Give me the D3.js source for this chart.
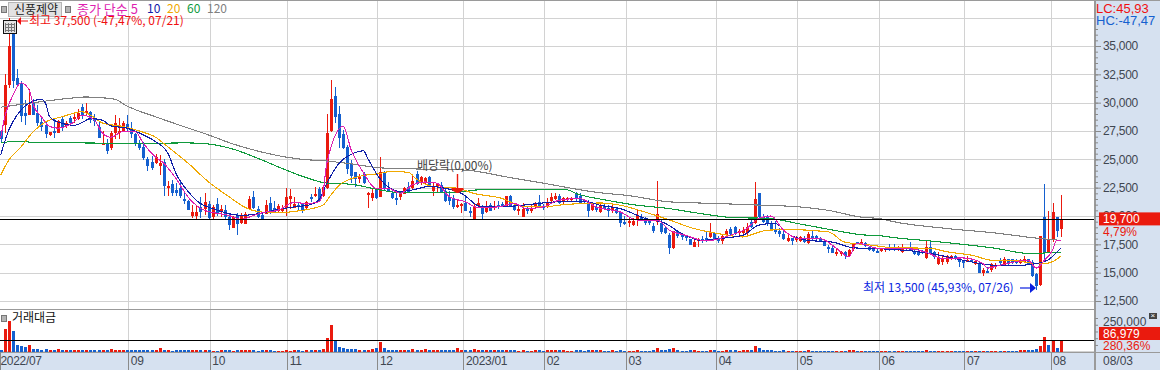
<!DOCTYPE html>
<html>
<head>
<meta charset="utf-8">
<script src="https://d3js.org/d3.v7.min.js"></script>
<style>
	body { margin: 0; background: #fff; overflow: hidden; }
	svg { display: block; }
	text { font-family: "Liberation Sans", "Noto Sans CJK KR", sans-serif; }
	.kr { font-family: "Noto Sans CJK KR", sans-serif; }
	.tick text { font-size: 12px; fill: #3f4650; letter-spacing: -0.3px; }
</style>
</head>
<body>
<svg id="vis" width="1160" height="370"></svg>
<script>
// daily prices, one entry per trading day
var opens = [
	27500,28050,31550,36150,32150,31700,29100,28900,30000,29100,
	28300,28000,27100,27500,27300,28550,27950,28650,28600,28550,
	29600,29100,29200,28550,27850,26350,26350,26000,27300,27300,
	27500,28100,27750,27200,26450,26100,25000,24800,24650,24400,
	24750,22450,22800,22300,22450,21500,21300,20000,20000,20800,
	20600,21050,19900,21050,20350,20500,19900,18900,20100,19350,
	19350,20600,21650,20600,20100,20250,21150,20700,20400,20400,
	20700,21550,20700,20950,21050,20700,21650,21750,22350,21800,
	22450,27500,30600,29000,27250,26100,24600,23900,23250,23700,
	21850,21600,22300,21700,23900,22500,22000,21600,21600,21950,
	22600,22400,23750,22900,22900,23450,22250,22650,22750,22200,
	21650,21500,20850,20900,21150,20450,19700,20850,20800,20350,
	21000,20700,21000,21100,20850,21800,20950,20450,19950,20650,
	20450,20800,21250,20900,20850,21300,21550,21800,21200,21400,
	21450,22000,21800,21400,21200,20500,20800,20350,20850,20750,
	20450,20600,20350,19450,19350,19250,19600,19900,19700,19650,
	19150,19450,19350,18900,18300,17150,18650,18300,18200,17950,
	17300,17750,17950,18100,18150,18500,18050,17800,18300,18850,
	19000,18450,18450,18450,19450,19350,22000,19900,19900,19350,
	18750,18650,18450,17800,18050,17950,17800,18000,17700,18200,
	18200,18100,17750,17300,17200,16700,16650,16800,16450,17150,
	17700,17600,17600,17300,17200,16950,16900,16950,17250,17300,
	17050,16800,17250,17200,16950,16900,16900,16350,17300,16800,
	15750,15950,15950,16250,16450,16200,16000,15950,16150,15800,
	15800,14900,15150,15200,15550,16000,15650,16200,16200,16000,
	15850,15950,16250,15950,14850,13900,19900,16800,17850,19900,18800
];
var highs = [
	27600,32500,37500,37000,33000,31900,30200,31200,30350,29800,
	28650,28300,27450,28550,28500,28850,28400,28850,29100,29400,
	29900,29950,29300,29000,28400,27500,26800,27500,28900,28650,
	28400,28900,28300,27300,26700,26500,25250,25300,25500,25400,
	25000,23100,23150,22900,23050,22000,21400,20950,20950,21650,
	22000,21300,20950,21600,20950,20950,20250,20000,20250,20300,
	20350,21800,22200,20900,20250,21400,21650,21350,21050,20950,
	22500,22350,21650,21250,21150,21300,21950,22550,22600,22600,
	29000,32000,31400,29700,27600,26300,24900,23900,23750,23900,
	22100,22450,22500,25200,24000,23000,22200,22200,21950,22550,
	23000,23500,23950,23500,23400,23550,23000,22950,23000,22500,
	22200,21850,21400,21150,21700,20800,21100,21550,21000,21350,
	21150,21300,21300,21200,21800,21850,21150,20850,21150,20800,
	21100,21250,21850,21050,21600,22000,22000,21900,21700,21700,
	21700,22100,22050,21500,21400,21200,20950,21150,21100,20950,
	20950,20800,20450,20000,19850,19850,20600,20150,19950,19700,
	19350,23100,19650,19050,18500,18700,18750,18500,18300,18000,
	17850,18050,18250,18600,19350,18550,18250,18300,18850,19050,
	19100,18850,19050,19350,19650,23000,22050,20150,20050,19550,
	19550,18900,18750,18300,18100,18200,18200,18200,18600,18700,
	18350,18150,17800,17400,17350,17150,16950,16900,17050,17600,
	17750,17950,17750,17350,17250,17050,17200,17250,17500,17500,
	17350,17500,17300,17700,17000,17050,17000,17900,17750,16900,
	16800,16550,16550,16550,16550,16350,16100,16450,16300,16150,
	15900,15400,15500,15850,15850,16300,16350,16250,16250,16200,
	16250,16450,16250,16100,14950,18250,22800,20400,21150,19950,21850
];
var lows = [
	26500,27350,31300,31300,31550,28300,28000,28900,28900,27900,
	27500,26850,27100,26900,27300,27500,27800,27900,28200,28500,
	28600,28900,28200,27900,26900,26250,25500,25850,26800,26800,
	27400,27500,26850,26200,25800,24950,24000,24100,24600,23650,
	21800,21800,21800,21800,21600,21100,20500,19800,19750,19800,
	20100,19650,19650,20000,19900,19750,18800,18900,18300,19300,
	19300,20500,20600,19800,19650,20150,20200,20250,20300,20300,
	20000,20650,20700,20500,20250,20600,21250,21650,21200,21700,
	22400,27400,28200,26000,25900,23700,22950,22600,22950,22800,
	20700,21350,21500,21650,22300,22100,21500,21000,21450,21900,
	22050,22350,22700,22750,22800,22550,21750,22000,22050,21250,
	21000,20650,20750,20250,20400,19900,19700,20750,19700,20300,
	20450,20500,20600,20800,20800,20850,20400,20050,19950,20200,
	20300,20700,20750,20550,20750,21100,21450,21100,21050,21250,
	21200,21250,21050,21100,19950,20450,20350,20250,20500,19950,
	20250,20150,19050,19250,19050,19150,19150,19600,19250,19250,
	18500,19250,18450,18400,16650,17100,18050,17850,17800,17400,
	17250,17250,17600,17750,18050,17850,17600,17500,18250,18350,
	18350,18250,18250,18350,18900,19300,19850,19350,19150,18650,
	18450,18150,17900,17700,17400,17700,17700,17650,17500,17900,
	17800,17700,17350,16750,16700,16500,16500,16250,16400,16950,
	17500,17400,17300,16950,16850,16700,16800,16850,16950,16900,
	16900,16700,17000,17000,16550,16500,16650,16250,16700,16250,
	15700,15700,15800,16100,16100,15500,15400,15900,15900,15700,
	15000,14700,14950,15100,15300,15600,15600,15600,15750,15800,
	15750,15850,15800,14650,13500,13850,15950,16750,17700,18150,18150
];
var closes = [
	26800,31550,35000,31900,31550,28750,28800,29800,28900,28200,
	27850,27200,27400,27300,28400,27850,28200,28200,28750,29100,
	28900,29300,28500,28350,26900,26450,25700,27300,28200,27500,
	28200,27850,27200,26400,26000,25100,24400,24300,25200,24650,
	22650,22650,22000,22000,21750,21300,20500,20350,20350,20350,
	21200,19800,20800,20250,20600,19900,19200,19900,19300,20100,
	20200,21500,20700,19900,19700,21000,20350,20350,20850,20700,
	21650,21800,21050,20800,20500,21200,21450,21950,21300,22600,
	27300,30300,28750,26900,26000,24150,23500,23250,23500,22900,
	22050,22050,21600,23900,22500,22200,21600,21500,21900,22450,
	22150,23050,22900,23450,23350,22650,22650,22800,22150,21300,
	21300,20800,20950,21100,20450,20250,20800,21150,20200,20800,
	20500,20900,20800,20900,21750,20950,20500,20650,20650,20500,
	20650,21150,20800,20800,21200,21650,21800,21200,21550,21550,
	21550,21500,21150,21200,20450,21150,20500,20950,20600,20450,
	20700,20250,19350,19350,19550,19600,20050,19700,19350,19350,
	18750,20150,18550,18450,17150,18650,18200,18150,18050,17400,
	17750,17950,17750,17850,18500,17950,17800,18200,18650,18450,
	18450,18650,18750,19000,19000,21500,19900,19450,19300,18750,
	18550,18400,18000,18050,17800,18100,18150,17700,18450,18000,
	17900,17800,17400,17200,16800,16800,16800,16450,17000,17550,
	17600,17700,17350,17000,16900,16800,17150,17150,17050,17000,
	17200,17150,17050,17050,16650,16550,16700,17300,16800,16350,
	16300,16300,16450,16450,16200,15950,15900,16150,16000,16050,
	15050,15200,15000,15750,15700,15900,16250,15850,15850,15900,
	16100,16250,15850,14700,13800,18200,16800,17850,20350,18650,19700
];
// trading value
var volumes = [
	12000,170000,226000,156000,52000,43000,32000,50000,23000,23000,
	15000,20000,15000,12000,20000,12000,12000,12000,12000,12000,
	12000,12000,10000,12000,10000,12000,15000,18000,14000,12000,
	12000,12000,12000,12000,12000,12000,14000,12000,12000,28000,
	14000,12000,8000,14000,14000,14000,14000,14000,14000,12000,
	12000,12000,8000,8000,12000,12000,10000,8000,12000,10000,
	10000,10000,12000,8000,10000,10000,12000,8000,8000,8000,
	12000,8000,12000,12000,8000,10000,14000,15000,15000,18000,
	100000,200000,83000,35000,30000,22000,22000,22000,10000,12000,
	12000,20000,25000,73000,28000,14000,14000,12000,12000,12000,
	15000,20000,15000,12000,20000,12000,12000,12000,14000,15000,
	15000,15000,24000,14000,12000,12000,18000,14000,12000,12000,
	10000,12000,10000,10000,14000,14000,10000,8000,12000,8000,
	8000,10000,10000,8000,10000,12000,12000,12000,10000,8000,
	8000,12000,12000,8000,14000,12000,10000,10000,8000,8000,
	10000,8000,14000,8000,8000,8000,12000,8000,8000,8000,
	12000,30000,14000,10000,20000,25000,10000,8000,8000,10000,
	10000,8000,8000,8000,14000,10000,8000,8000,10000,10000,
	10000,8000,10000,12000,12000,45000,30000,14000,10000,10000,
	8000,8000,10000,8000,8000,8000,8000,8000,10000,8000,
	8000,8000,8000,8000,8000,8000,8000,8000,10000,12000,
	8000,8000,8000,8000,8000,8000,8000,8000,8000,8000,
	8000,8000,8000,8000,8000,8000,8000,10000,8000,8000,
	8000,6000,8000,6000,6000,6000,6000,6000,6000,6000,
	6000,6000,6000,8000,6000,6000,8000,6000,6000,6000,
	10000,12000,10000,12000,20000,45000,110000,50000,86000,28000,86979
];
// volume bars whose colour differs from the candle above them
var volumeFlip = [256, 257];

// moving averages read at some bars
var ma120Bars = [0,8,16,21,24,28,31,38,44,51,57,64,70,74,80,86,93,102,114,124,133,147,154,164,176,183,196,203,211,216,219,232,244,254,260];
var ma120 = [29600,30000,30350,30500,30450,30300,29700,28750,28000,27150,26350,25650,25200,25000,24850,24600,24250,24150,24050,23450,22900,22050,21800,21250,21100,21000,20800,20500,19900,19750,19500,18900,18500,18050,17850];
var ma60Bars = [0,4,10,19,34,46,51,57,64,70,74,80,86,93,98,106,112,117,139,141,144,147,155,164,172,180,188,196,205,211,216,219,228,236,244,252,260];
var ma60 = [26450,26600,26450,26450,26400,26450,26350,25900,24950,24050,23500,22900,22800,22300,22050,22100,22100,22300,22300,22000,21700,21500,21000,20650,20200,19850,19800,19300,18700,18350,18250,18100,17800,17500,17150,16700,16800];
var ma20Bars = [0,2,5,8,11,15,20,22,25,30,34,38,41,46,51,56,60,64,68,74,79,81,83,88,93,96,100,102,106,112,116,123,128,133,138,147,152,158,164,170,176,182,185,188,194,203,207,213,219,228,232,238,244,248,254,257,260];
var ma20 = [23600,24950,26100,27450,28300,28750,29200,28900,28200,27900,27500,26950,26100,24650,23000,21700,20750,20350,20300,20500,20950,21850,22700,23500,23750,23950,23850,23250,22600,22450,22000,21550,20850,20800,21000,21150,20950,20350,19650,18900,18450,18150,18450,18750,18800,18600,17700,17450,17200,17150,16850,16550,16050,16100,15800,15850,16450];
var ma10Bars = [0,2,4,6,8,10,11,12,14,18,20,22,25,27,31,35,38,41,43,46,49,52,59,64,67,72,76,78,80,83,86,89,90,93,98,101,105,109,113,118,123,128,137,144,147,152,158,163,167,172,176,182,186,190,193,198,204,209,216,219,228,236,244,250,254,257,260];
var ma10 = [25400,27600,28900,29700,30150,30300,29950,28750,28300,28000,28250,28600,28450,27950,27750,27150,26550,25550,23750,22150,21100,20650,20050,20250,20500,20800,21000,21400,22900,24650,25450,25750,25100,23300,22150,22300,22600,22450,22000,20800,20800,20950,21250,21250,20950,20650,19800,19350,18450,17850,18000,18300,19200,19350,18450,17850,17700,17200,17100,17050,16700,16100,15650,15650,15800,16150,17150];
var ma5Bars = [0,1,3,5,7,8,10,12,14,18,20,23,25,27,30,33,35,38,40,43,46,50,56,59,62,65,68,72,75,78,79,80,84,86,89,92,95,98,101,104,107,110,114,117,122,126,129,133,137,142,146,152,156,161,164,168,173,179,183,186,189,192,196,201,205,208,210,216,223,227,231,236,241,242,245,252,254,256,258,259,260];
var ma5 = [26900,28750,30650,31750,31100,29800,28750,27900,27750,28300,28900,28450,27300,26950,27450,27450,26400,25200,24650,23300,21650,20500,20050,19700,20050,20350,20500,21200,21100,21250,22000,24650,27900,25800,23800,22450,22450,22000,22750,23000,22900,21700,21250,20750,20800,21100,20650,20800,21400,21550,20800,20350,19650,19650,18750,18300,17800,18300,18900,19800,20000,18750,18000,18000,17150,16400,17600,17100,17100,16800,16250,16300,15800,15400,15650,16100,15400,16100,17000,17850,17850];

var maSeries = [
	{ name: "120", bars: ma120Bars, values: ma120, color: "#808080" },
	{ name: "60", bars: ma60Bars, values: ma60, color: "#0f9a3c" },
	{ name: "20", bars: ma20Bars, values: ma20, color: "#f0a800" },
	{ name: "10", bars: ma10Bars, values: ma10, color: "#1020a8" },
	{ name: "5", bars: ma5Bars, values: ma5, color: "#de1fb0" }
];

// month boundaries, as fractional bar positions
var monthTicks = [-0.2, 31.3, 51.3, 70.3, 92.4, 113.5, 133.3, 153.4, 175.5, 195.4, 215.5, 236.4, 257.5];
var monthLabels = ["2022/07", "09", "10", "11", "12", "2023/01", "02", "03", "04", "05", "06", "07", "08"];
var priceLabels = [12500, 15000, 17500, 20000, 22500, 25000, 27500, 30000, 32500, 35000];
var priceGrid = [12500, 15000, 17500, 20000, 22500, 25000, 27500, 30000, 32500, 35000, 37500];
var priceMinor = d3.range(12000, 37501, 500);
var legendItems = [
	{ text: "종가 단순 5", color: "#de1fb0", x: 77, size: 13 },
	{ text: "10", color: "#1020a8", x: 147, size: 12 },
	{ text: "20", color: "#f0a800", x: 167, size: 12 },
	{ text: "60", color: "#0f9a3c", x: 187, size: 12 },
	{ text: "120", color: "#808080", x: 207, size: 12 }
];

var lastPrice = 19700, lastVolume = 86979;
var RED = "#ea1a0e", BLUE = "#1560cf", GRID = "#d2d2d2", PANEL = "#d6e1f0", EDGE = "#9a9a9a";
var plotRight = 1094, mainBottom = 309, volBottom = 352;

var svg = d3.select("#vis");
var x = d3.scaleLinear().domain([0, 260]).range([0.7, 1060.7]);
var y = d3.scaleLinear().domain([12500, 35000]).range([301, 46]);
var v = d3.scaleLinear().domain([0, 250000]).range([351.7, 318]);
function px(val) { return Math.round(val) + 0.5; }

// side panel and bottom strip
svg.append("rect").attr("x", plotRight).attr("y", 0).attr("width", 1160 - plotRight).attr("height", 370).attr("fill", PANEL);
svg.append("rect").attr("x", 0).attr("y", volBottom).attr("width", 1160).attr("height", 18).attr("fill", PANEL);

// grid
var grid = svg.append("g").attr("shape-rendering", "crispEdges").attr("stroke", GRID);
grid.selectAll(".gx").data(monthTicks.slice(1)).enter().append("line")
	.attr("x1", function(d) { return px(x(d)); }).attr("x2", function(d) { return px(x(d)); })
	.attr("y1", 1).attr("y2", volBottom).attr("stroke-width", 1.6);
grid.selectAll(".gy").data(priceGrid).enter().append("line")
	.attr("x1", 0).attr("x2", plotRight)
	.attr("y1", function(d) { return px(y(d)); }).attr("y2", function(d) { return px(y(d)); });
grid.append("line").attr("x1", 0).attr("x2", plotRight).attr("y1", 351.5).attr("y2", 351.5);

// candles
var candle = svg.selectAll(".candle").data(opens).enter().append("g")
	.attr("shape-rendering", "crispEdges")
	.attr("fill", function(d, i) { return closes[i] >= d ? RED : BLUE; })
	.attr("stroke", function(d, i) { return closes[i] >= d ? RED : BLUE; });
candle.append("line")
	.attr("x1", function(d, i) { return px(x(i)); }).attr("x2", function(d, i) { return px(x(i)); })
	.attr("y1", function(d, i) { return y(highs[i]); }).attr("y2", function(d, i) { return y(lows[i]); });
candle.append("rect")
	.attr("stroke", "none")
	.attr("x", function(d, i) { return Math.round(x(i)) - 1; })
	.attr("width", 3)
	.attr("y", function(d, i) { return Math.round(y(Math.max(d, closes[i]))); })
	.attr("height", function(d, i) { return Math.max(2, Math.round(Math.abs(y(d) - y(closes[i])))); });

// moving averages
var maLine = d3.line().curve(d3.curveMonotoneX);
svg.selectAll(".ma").data(maSeries).enter().append("path")
	.attr("fill", "none")
	.attr("shape-rendering", "crispEdges")
	.attr("stroke", function(d) { return d.color; })
	.attr("stroke-width", 1.1)
	.attr("d", function(d) {
		return maLine(d.bars.map(function(b, i) { return [x(b), y(d.values[i])]; }));
	});

// current price line
svg.append("line").attr("shape-rendering", "crispEdges").attr("stroke", "#000")
	.attr("x1", 0).attr("x2", plotRight).attr("y1", px(y(lastPrice))).attr("y2", px(y(lastPrice)));

// volume bars
svg.selectAll(".vol").data(volumes).enter().append("rect")
	.attr("shape-rendering", "crispEdges")
	.attr("x", function(d, i) { return Math.round(x(i)) - 1; })
	.attr("width", 3)
	.attr("y", function(d) { return Math.round(v(d)); })
	.attr("height", function(d) { return 352 - Math.round(v(d)); })
	.attr("fill", function(d, i) {
		var up = closes[i] >= opens[i];
		if (volumeFlip.indexOf(i) >= 0) up = !up;
		return up ? RED : BLUE;
	});
svg.append("line").attr("shape-rendering", "crispEdges").attr("stroke", "#000")
	.attr("x1", 0).attr("x2", plotRight).attr("y1", px(v(lastVolume))).attr("y2", px(v(lastVolume)));

// panel edges
var edges = svg.append("g").attr("shape-rendering", "crispEdges").attr("stroke", EDGE);
edges.append("line").attr("x1", 0).attr("x2", 1160).attr("y1", 0.5).attr("y2", 0.5).attr("stroke-width", 1.5);
edges.append("line").attr("x1", 0).attr("x2", plotRight).attr("y1", mainBottom + 0.5).attr("y2", mainBottom + 0.5);
edges.append("line").attr("x1", 0).attr("x2", 1160).attr("y1", volBottom + 0.5).attr("y2", volBottom + 0.5);
edges.append("line").attr("x1", plotRight + 0.5).attr("x2", plotRight + 0.5).attr("y1", 0).attr("y2", 370).attr("stroke-width", 2);

// price axis
var minorAxis = d3.axisRight(y).tickValues(priceMinor.filter(function(d) { return d >= 12500 && d <= 36500; })).tickSize(3).tickFormat("");
var yMinor = svg.append("g").attr("transform", "translate(" + (plotRight + 1) + ",0)").call(minorAxis);
var majorAxis = d3.axisRight(y).tickValues(priceLabels).tickSize(6).tickPadding(2).tickFormat(d3.format(","));
var yMajor = svg.append("g").attr("transform", "translate(" + (plotRight + 1) + ",0)").call(majorAxis);
[yMinor, yMajor].forEach(function(g) {
	g.select(".domain").remove();
	g.selectAll("line").attr("stroke", "#8a8a8a");
	g.attr("font-family", null).attr("font-size", null);
});

// month axis
var xAxis = d3.axisBottom(x).tickValues(monthTicks).tickSize(18).tickPadding(-14)
	.tickFormat(function(d, i) { return monthLabels[i]; });
var xg = svg.append("g").attr("transform", "translate(0," + volBottom + ")").call(xAxis);
xg.select(".domain").remove();
xg.selectAll("line").attr("stroke", "#8a8a8a").attr("shape-rendering", "crispEdges");
xg.attr("font-family", null).attr("font-size", null);
xg.selectAll("text").attr("text-anchor", "start").attr("x", 2);
xg.select(".tick text").attr("x", 0);

// volume axis
var volAxis = d3.axisRight(v).tickValues([50000, 100000, 150000, 200000, 250000]).tickSize(3).tickFormat("");
var volG = svg.append("g").attr("transform", "translate(" + (plotRight + 1) + ",0)").call(volAxis);
volG.select(".domain").remove();
volG.selectAll("line").attr("stroke", "#8a8a8a");

function label(text, xPos, yPos, color, size, cls, anchor) {
	return svg.append("text").attr("x", xPos).attr("y", yPos).attr("dy", "0.35em")
		.attr("fill", color).attr("font-size", size).attr("class", cls || null)
		.attr("text-anchor", anchor || "start").text(text);
}
label("250,000", 1103, 322, "#3f4650", 12);

// price boxes
var boxes = [
	{ top: y(lastPrice) - 7, text: d3.format(",")(lastPrice), sub: "4,79%" },
	{ top: 327, text: d3.format(",")(lastVolume), sub: "280,36%" }
];
boxes.forEach(function(b) {
	svg.append("rect").attr("x", 1099).attr("y", b.top).attr("width", 61).attr("height", 13).attr("fill", RED);
	label(b.text, 1103, b.top + 6.5, "#fff", 12);
	label(b.sub, 1103, b.top + 19, RED, 12);
});
label("08/03", 1103, 361, "#3f4650", 12);
label("LC:45,93", 1096, 8, "#f01010", 13);
label("HC:-47,47", 1096, 20, BLUE, 13);

// little collapse icon of the volume pane
svg.append("rect").attr("x", 1149).attr("y", 313).attr("width", 8).attr("height", 6).attr("fill", "#444");
label("×", 1150.5, 315.5, "#fff", 8);

// legend
function marker(xPos, yPos) {
	svg.append("rect").attr("x", xPos + 0.5).attr("y", yPos + 0.5).attr("width", 5).attr("height", 6)
		.attr("fill", "#b4b4b4").attr("stroke", "#777").attr("shape-rendering", "crispEdges");
}
marker(1, 6);
svg.append("rect").attr("x", 8.5).attr("y", 2.5).attr("width", 53).attr("height", 14)
	.attr("fill", "#e2e2e2").attr("stroke", "#b5b5b5").attr("shape-rendering", "crispEdges");
label("신풍제약", 36, 10, "#222", 12, "kr", "middle");
marker(65, 6);
legendItems.forEach(function(d) {
	label(d.text, d.x, 9, d.color, d.size, "kr");
});
marker(1, 315);
label("거래대금", 12, 318, "#111", 12, "kr");

// table icon
var icon = svg.append("g").attr("shape-rendering", "crispEdges");
icon.append("rect").attr("x", 3.5).attr("y", 20.5).attr("width", 13).attr("height", 13).attr("fill", "#e4e4e4").attr("stroke", "#111");
d3.range(5, 16, 3).forEach(function(d) {
	icon.append("line").attr("x1", d + 0.5).attr("x2", d + 0.5).attr("y1", 23).attr("y2", 32).attr("stroke", "#777");
});
[24, 27, 30].forEach(function(d) {
	icon.append("line").attr("x1", 5).attr("x2", 15).attr("y1", d + 0.5).attr("y2", d + 0.5).attr("stroke", "#777");
});

// high and low notes
var highY = 21;
svg.append("path").attr("fill", "#f01010").attr("d", "M17," + highY + "l4,-4v8z");
svg.append("line").attr("x1", 20).attr("x2", 28).attr("y1", highY).attr("y2", highY).attr("stroke", "#f01010");
label("최고 37,500 (-47,47%, 07/21)", 29, highY, "#f01010", 12, "kr");
label("최저 13,500 (45,93%, 07/26)", 863, 288, "#0a1fe0", 12, "kr");
svg.append("line").attr("x1", 1020).attr("x2", 1032).attr("y1", 288).attr("y2", 288).attr("stroke", "#0a1fe0").attr("stroke-width", 1.2);
svg.append("path").attr("fill", "#0a1fe0").attr("d", "M1036,288l-6,-5v10z");

// ex-dividend note
label("배당락(0,00%)", 417, 166, "#444", 12, "kr");
var exX = px(x(112));
svg.append("line").attr("x1", exX).attr("x2", exX).attr("y1", 174).attr("y2", 189).attr("stroke", RED).attr("stroke-width", 1.4);
svg.append("path").attr("fill", RED).attr("d", "M" + (exX - 6) + ",188h12v2l-5,3h-2l-5,-3z");

</script>
</body>
</html>
